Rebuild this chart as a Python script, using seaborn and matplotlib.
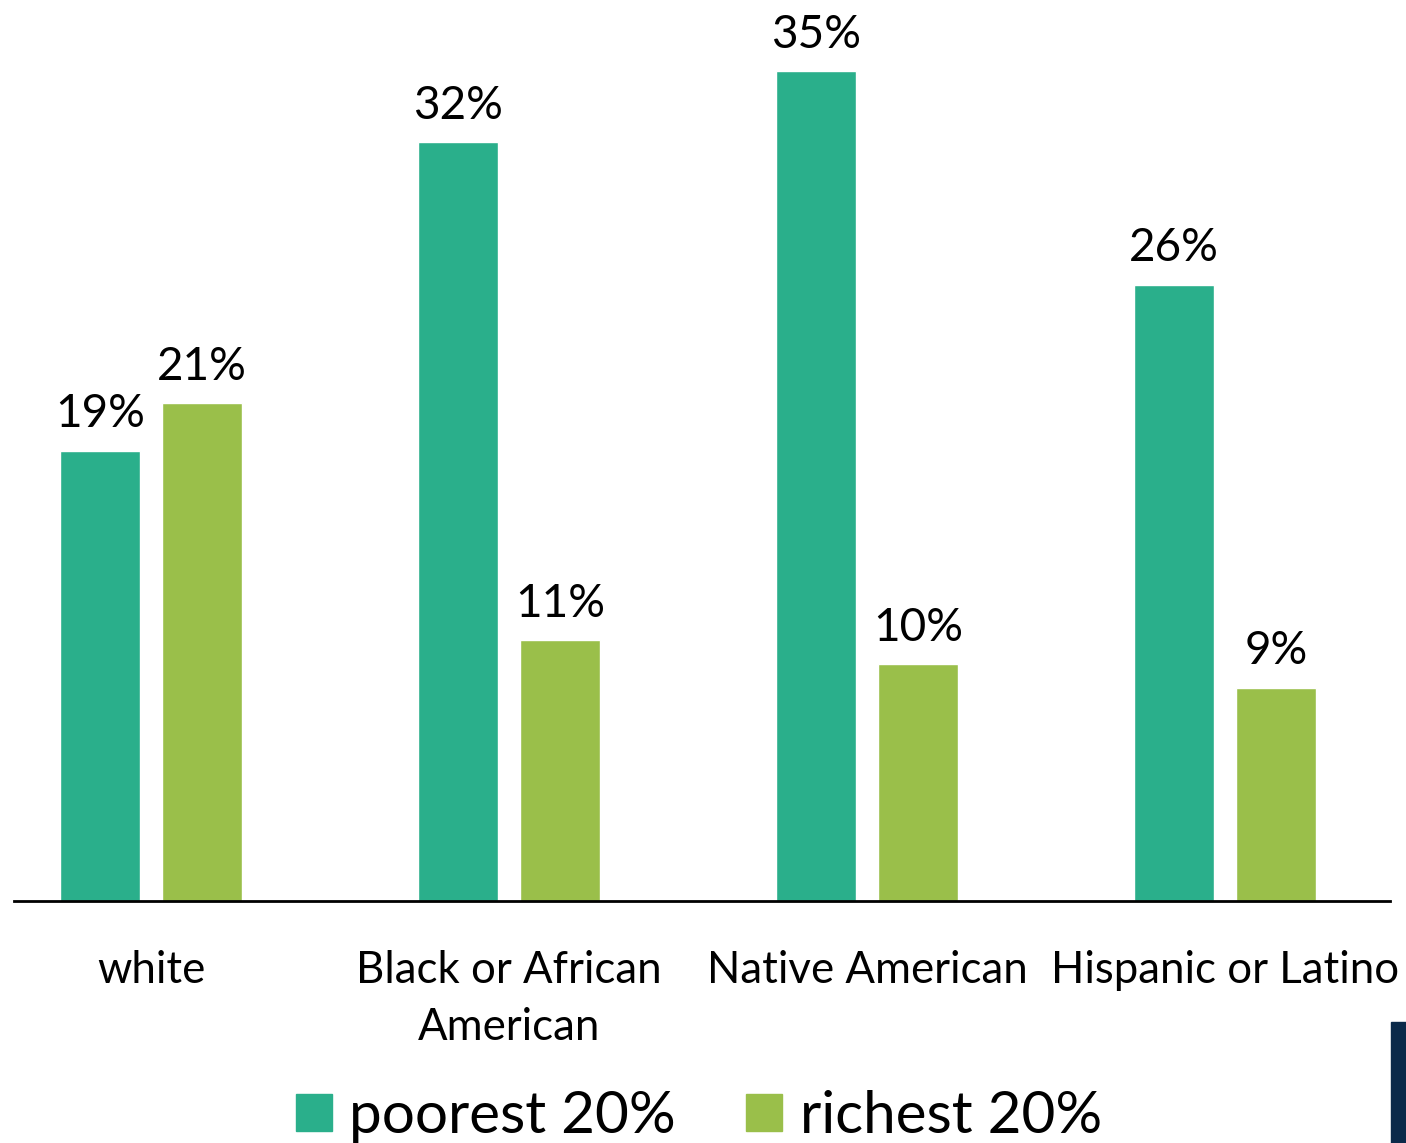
import matplotlib
matplotlib.use("Agg")
import matplotlib.pyplot as plt
import matplotlib.patches as mpatches
import seaborn as sns
import pandas as pd

categories = ["white", "Black or African\nAmerican", "Native American", "Hispanic or Latino"]
series = ["poorest 20%", "richest 20%"]
poorest = [19, 32, 35, 26]
richest = [21, 11, 10, 9]
colors = ["#2AAF8B", "#9ABF4A"]

df = pd.DataFrame({
    "group": categories * 2,
    "share": poorest + richest,
    "series": [series[0]] * 4 + [series[1]] * 4,
})

sns.set_theme(style="white")
plt.rcParams["font.family"] = ["Lato", "DejaVu Sans"]
plt.rcParams["text.color"] = "black"

fig = plt.figure(figsize=(14.06, 11.43), dpi=100)
ax = fig.add_axes([14 / 1406, 1 - 901 / 1143, (1390 - 14) / 1406, 901 / 1143])

sns.barplot(data=df, x="group", y="share", hue="series", order=categories,
            hue_order=series, palette=colors, width=0.57, gap=0.216,
            saturation=1, ax=ax, legend=False)

for cont in ax.containers:
    ax.bar_label(cont, labels=[f"{v:.0f}%" for v in cont.datavalues],
                 padding=11, fontsize=33, color="black")

ax.set_xlim(-0.383, 3.461)
ax.set_ylim(0, 38)
ax.set_xlabel("")
ax.set_ylabel("")
ax.set_yticks([])
for s in ["left", "right", "top"]:
    ax.spines[s].set_visible(False)
ax.spines["bottom"].set_color("black")
ax.spines["bottom"].set_linewidth(2)
ax.tick_params(axis="x", length=0, pad=35, labelsize=31.5, labelcolor="black")
for lbl in ax.get_xticklabels():
    lbl.set_linespacing(1.5)

handles = [mpatches.Patch(color=c, label=s) for c, s in zip(colors, series)]
fig.legend(handles=handles, loc="lower center", bbox_to_anchor=(0.497, -0.046),
           ncol=2, frameon=False, fontsize=42, handlelength=0.62,
           handleheight=0.62, handletextpad=0.3, columnspacing=1.2,
           labelcolor="black")

# dark edge block in the lower right corner
fig.patches.append(mpatches.Rectangle((1391 / 1406, 0), 15 / 1406, 121 / 1143,
                                      transform=fig.transFigure, color="#0B2A4A",
                                      zorder=5))

fig.savefig("out.png", dpi=100)
